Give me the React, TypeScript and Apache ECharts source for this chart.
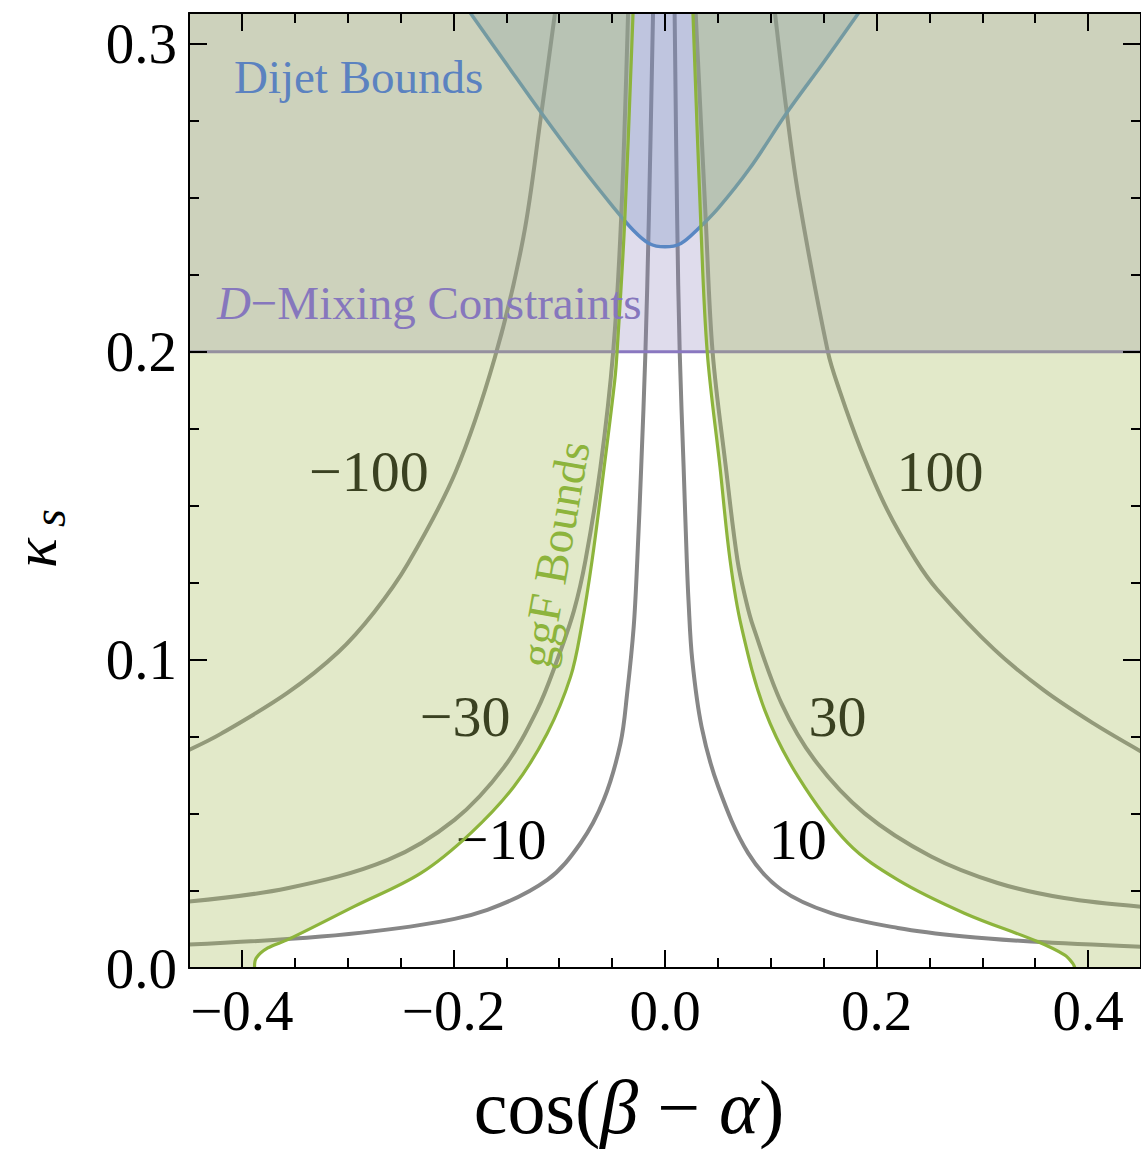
import React, { useEffect, useRef } from 'react';
import * as echarts from 'echarts';

// ---------- axis ticks ----------
const xMajorTicks = [-0.4, -0.2, 0, 0.2, 0.4];
const xMinorTicks = [-0.35, -0.3, -0.25, -0.15, -0.1, -0.05, 0.05, 0.1, 0.15, 0.25, 0.3, 0.35];
const yMajorTicks = [0, 0.1, 0.2, 0.3];
const yMinorTicks = [0.025, 0.05, 0.075, 0.125, 0.15, 0.175, 0.225, 0.25, 0.275];

// ---------- contour lines [cos(beta-alpha), kappa_s] ----------
const contourMinus100 = [
  [-0.45, 0.0708], [-0.42, 0.076], [-0.357, 0.0893], [-0.309, 0.1025], [-0.275, 0.1155],
  [-0.243, 0.1313], [-0.198, 0.161], [-0.161, 0.198], [-0.134, 0.237], [-0.117, 0.2772], [-0.104, 0.31],
];
const contourPlus100 = [
  [0.104, 0.31], [0.115, 0.278], [0.1265, 0.25], [0.154, 0.2], [0.165, 0.1875], [0.185, 0.1685],
  [0.21, 0.1488], [0.237, 0.1325], [0.2575, 0.1228], [0.311, 0.1035], [0.358, 0.0902], [0.405, 0.0794], [0.45, 0.0703],
];
const contourMinus30 = [
  [-0.45, 0.0216], [-0.357, 0.0259], [-0.262, 0.0351], [-0.199, 0.0481], [-0.152, 0.0653],
  [-0.121, 0.0837], [-0.102, 0.0999], [-0.086, 0.1161], [-0.0752, 0.1323], [-0.061, 0.1626],
  [-0.049, 0.2], [-0.0415, 0.243], [-0.0349, 0.31],
];
const contourPlus30 = [
  [0.029, 0.31], [0.0385, 0.243], [0.045, 0.2], [0.0575, 0.1626], [0.0685, 0.1324], [0.0765, 0.1194],
  [0.0835, 0.1107], [0.1101, 0.0859], [0.1415, 0.0675], [0.1887, 0.0502], [0.2516, 0.0362],
  [0.3145, 0.0276], [0.3774, 0.0227], [0.45, 0.0199],
];
const contourMinus10 = [
  [-0.45, 0.0076], [-0.3252, 0.0102], [-0.2308, 0.014], [-0.1679, 0.0189], [-0.1113, 0.0286],
  [-0.0799, 0.0405], [-0.0579, 0.0546], [-0.0421, 0.0729], [-0.0358, 0.0891], [-0.0296, 0.1107],
  [-0.0262, 0.1324], [-0.0225, 0.1626], [-0.0185, 0.2], [-0.0153, 0.243], [-0.0113, 0.31],
];
const contourPlus10 = [
  [0.0091, 0.31], [0.0115, 0.243], [0.0139, 0.2], [0.0176, 0.1626], [0.0206, 0.1324], [0.0222, 0.1194],
  [0.0258, 0.0999], [0.0346, 0.0783], [0.0503, 0.0589], [0.0786, 0.0373], [0.1101, 0.0254],
  [0.1572, 0.0178], [0.2201, 0.013], [0.283, 0.0102], [0.346, 0.0086], [0.45, 0.0069],
];

// ---------- bounds ----------
const ggfBoundLeft = [
  [-0.388, 0], [-0.3865, 0.0032], [-0.3755, 0.0065], [-0.3566, 0.0092], [-0.2937, 0.02],
  [-0.2308, 0.0308], [-0.1836, 0.0438], [-0.1428, 0.0589], [-0.1113, 0.0762], [-0.0893, 0.0945],
  [-0.079, 0.1107], [-0.0689, 0.1324], [-0.0575, 0.1626], [-0.0475, 0.1907], [-0.0453, 0.2],
  [-0.038, 0.243], [-0.0302, 0.31],
];
const ggfBoundRight = [
  [0.0264, 0.31], [0.0337, 0.243], [0.0399, 0.2], [0.052, 0.1626], [0.0615, 0.1324], [0.0723, 0.1107],
  [0.0943, 0.0837], [0.1258, 0.0621], [0.173, 0.0405], [0.2201, 0.0286], [0.283, 0.0178],
  [0.352, 0.0086], [0.378, 0.0042], [0.3855, 0.0015], [0.3875, 0],
];
const dijetBound = [
  [-0.184, 0.31], [-0.15, 0.2935], [-0.117, 0.2776], [-0.08, 0.2605], [-0.05, 0.2475], [-0.03, 0.2395],
  [-0.015, 0.2352], [0, 0.2341], [0.015, 0.2352], [0.03, 0.2395], [0.05, 0.2465], [0.08, 0.2595],
  [0.116, 0.278], [0.15, 0.294], [0.183, 0.31],
];
const dMixingBound = [[-0.45, 0.2], [0.45, 0.2]];

// ---------- labels ----------
const contourLabelTexts = ['\u2212100', '100', '\u221230', '30', '\u221210', '10'];
const contourLabelAnchors = [
  [-0.28, 0.1613], [0.26, 0.1613], [-0.189, 0.0815], [0.163, 0.0815], [-0.155, 0.0417], [0.1255, 0.0417],
];
const annotationTexts = ['Dijet Bounds', '{i|D}\u2212Mixing Constraints', 'ggF Bounds'];
const annotationAnchors = [[-0.4075, 0.2892], [-0.4236, 0.216], [-0.1047, 0.1343]];

const X_MIN = -0.45, X_MAX = 0.45, Y_MIN = 0, Y_MAX = 0.31;
const FONT = '"Liberation Serif", "Times New Roman", Times, serif';
const SMOOTH = 0.35;

const contourCurves = [contourMinus100, contourPlus100, contourMinus30, contourPlus30, contourMinus10, contourPlus10];

// region definitions: boundary curve + plot-frame corners that close it
const regions = [
  { curve: dijetBound, corners: [] as number[][], fill: 'rgba(108,148,195,0.30)', stroke: '#468ac7', width: 3.5, z: 2 },
  { curve: dMixingBound, corners: [[X_MAX, Y_MAX], [X_MIN, Y_MAX]], fill: 'rgba(141,130,187,0.28)', stroke: '#8a78c0', width: 3, z: 3 },
  { curve: ggfBoundLeft, corners: [[X_MIN, Y_MAX], [X_MIN, Y_MIN]], fill: 'rgba(170,190,96,0.34)', stroke: '#8db43c', width: 3.2, z: 4 },
  { curve: ggfBoundRight, corners: [[X_MAX, Y_MIN], [X_MAX, Y_MAX]], fill: 'rgba(170,190,96,0.34)', stroke: '#8db43c', width: 3.2, z: 4 },
];

const fmtX = (v: number) => {
  const s = Math.abs(v).toFixed(1);
  return v < -1e-9 ? '\u2212' + s : s;
};

function xAxisDef(position: string, ticks: number[], length: number, showLine: boolean, showLabel: boolean) {
  return {
    type: 'value', min: X_MIN, max: X_MAX, position, z: 10,
    axisLine: { show: showLine, onZero: false, lineStyle: { color: '#000', width: 2 } },
    axisTick: { show: true, inside: true, length, lineStyle: { color: '#000', width: 2 }, customValues: ticks },
    axisLabel: showLabel
      ? { show: true, customValues: ticks, formatter: fmtX, fontFamily: FONT, fontSize: 57, color: '#000', margin: 14 }
      : { show: false },
    splitLine: { show: false },
  };
}
function yAxisDef(position: string, ticks: number[], length: number, showLine: boolean, showLabel: boolean) {
  return {
    type: 'value', min: Y_MIN, max: Y_MAX, position, z: 10,
    axisLine: { show: showLine, onZero: false, lineStyle: { color: '#000', width: 2 } },
    axisTick: { show: true, inside: true, length, lineStyle: { color: '#000', width: 2 }, customValues: ticks },
    axisLabel: showLabel
      ? { show: true, customValues: ticks, formatter: (v: number) => v.toFixed(1), fontFamily: FONT, fontSize: 57, color: '#000', margin: 12 }
      : { show: false },
    splitLine: { show: false },
  };
}

// polygon whose curved part is smoothed while joins to the frame stay sharp (doubled vertices)
function areaPoints(curvePx: number[][], cornersPx: number[][]) {
  const n = curvePx.length;
  const pts: number[][] = [curvePx[0], [curvePx[0][0], curvePx[0][1]]];
  for (let i = 1; i < n - 1; i++) pts.push(curvePx[i]);
  pts.push(curvePx[n - 1], [curvePx[n - 1][0], curvePx[n - 1][1]]);
  cornersPx.forEach((c) => { pts.push(c, [c[0], c[1]]); });
  return pts;
}

const option = {
  animation: false,
  grid: { left: 189, top: 13, width: 954, height: 955, containLabel: false },
  xAxis: [
    xAxisDef('bottom', xMajorTicks, 18, true, true),
    xAxisDef('bottom', xMinorTicks, 10, false, false),
    xAxisDef('top', xMajorTicks, 18, true, false),
    xAxisDef('top', xMinorTicks, 10, false, false),
  ],
  yAxis: [
    yAxisDef('left', yMajorTicks, 18, true, true),
    yAxisDef('left', yMinorTicks, 10, false, false),
    yAxisDef('right', yMajorTicks, 18, true, false),
    yAxisDef('right', yMinorTicks, 10, false, false),
  ],
  series: [
    {
      type: 'custom', xAxisIndex: 0, yAxisIndex: 0, z: 1, silent: true, clip: true,
      data: contourCurves.map((c) => c[0]),
      renderItem: (params: any, api: any) => {
        const pts = contourCurves[params.dataIndex].map((p) => api.coord(p));
        return {
          type: 'polyline',
          shape: { points: pts, smooth: SMOOTH },
          style: { stroke: '#878787', lineWidth: 4, fill: 'none', lineJoin: 'round' },
        };
      },
    },
    {
      type: 'custom', xAxisIndex: 0, yAxisIndex: 0, z: 1, silent: true,
      data: contourLabelAnchors,
      renderItem: (params: any, api: any) => {
        const pt = api.coord([api.value(0), api.value(1)]);
        return {
          type: 'text', x: pt[0], y: pt[1],
          style: {
            text: contourLabelTexts[params.dataIndex], fill: '#000', fontSize: 58, fontFamily: FONT,
            align: 'center', verticalAlign: 'middle',
          },
        };
      },
    },
    ...regions.map((r) => ({
      type: 'custom', xAxisIndex: 0, yAxisIndex: 0, z: r.z, silent: true, clip: true,
      data: [r.curve[0]],
      renderItem: (params: any, api: any) => {
        const curvePx = r.curve.map((p) => api.coord(p));
        const cornersPx = r.corners.map((p) => api.coord(p));
        return {
          type: 'group',
          children: [
            {
              type: 'polygon',
              shape: { points: areaPoints(curvePx, cornersPx), smooth: SMOOTH },
              style: { fill: r.fill, stroke: 'none' },
            },
            {
              type: 'polyline',
              shape: { points: curvePx, smooth: SMOOTH },
              style: { stroke: r.stroke, lineWidth: r.width, fill: 'none', lineJoin: 'round' },
            },
          ],
        };
      },
    })),
    {
      type: 'custom', xAxisIndex: 0, yAxisIndex: 0, z: 6, silent: true,
      data: annotationAnchors,
      renderItem: (params: any, api: any) => {
        const pt = api.coord([api.value(0), api.value(1)]);
        const i = params.dataIndex;
        const colors = ['#5b82c0', '#8677bd', '#8db43c'];
        return {
          type: 'text', x: pt[0], y: pt[1],
          rotation: i === 2 ? (80 * Math.PI) / 180 : 0,
          style: {
            text: annotationTexts[i], fill: colors[i], fontSize: 47, fontFamily: FONT, fontStyle: 'normal',
            align: i === 2 ? 'center' : 'left', verticalAlign: 'middle',
            rich: { i: { fontStyle: 'italic', fontSize: 47, fontFamily: FONT, fill: colors[i] } },
          },
        };
      },
    },
  ],
  graphic: [
    {
      type: 'text', x: 629, y: 1107, silent: true,
      style: {
        text: 'cos({i|\u03b2} \u2212 {i|\u03b1})', fill: '#000', fontSize: 76, fontFamily: FONT,
        align: 'center', verticalAlign: 'middle',
        rich: {
          i: { fontStyle: 'italic', fontSize: 76, fontFamily: FONT, fill: '#000' },
        },
      },
    },
    {
      type: 'group', x: 35, y: 568, rotation: Math.PI / 2, silent: true,
      children: [
        {
          type: 'text', x: 0, y: 0,
          style: { text: '\u03ba', fill: '#000', fontSize: 62, fontStyle: 'italic', fontFamily: FONT, align: 'left', verticalAlign: 'middle' },
        },
        {
          type: 'text', x: 41, y: 14,
          style: { text: 's', fill: '#000', fontSize: 46, fontStyle: 'italic', fontFamily: FONT, align: 'left', verticalAlign: 'middle' },
        },
      ],
    },
  ],
};

export default function App() {
  const ref = useRef<HTMLDivElement>(null);
  useEffect(() => {
    const chart = echarts.init(ref.current as HTMLDivElement, null, { renderer: 'svg' });
    chart.setOption(option as any);
    return () => chart.dispose();
  }, []);
  return <div ref={ref} style={{ position: 'absolute', left: 0, top: 0, width: 1141, height: 1151 }} />;
}
